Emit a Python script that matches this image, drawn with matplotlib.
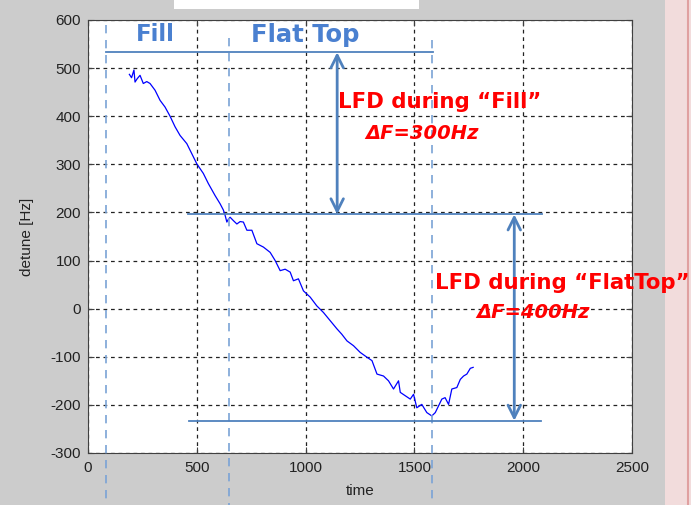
import matplotlib.pyplot as plt
from matplotlib.patches import Rectangle
from matplotlib.lines import Line2D

plt.rcParams['axes.unicode_minus'] = False

# detune curve
time = [190, 200, 211, 216, 226, 239, 254, 270, 285, 308,
        331, 354, 377, 400, 423, 454, 477, 500, 530, 553,
        584, 607, 622, 630, 638, 645, 653, 668, 684, 699,
        714, 730, 753, 776, 806, 837, 860, 883, 906, 929,
        944, 967, 990, 1021, 1051, 1082, 1113, 1144, 1166, 1190,
        1220, 1251, 1282, 1305, 1328, 1358, 1381, 1404, 1427, 1435,
        1458, 1481, 1496, 1511, 1534, 1557, 1580, 1596, 1611, 1626,
        1641, 1657, 1672, 1695, 1711, 1726, 1741, 1757, 1770]
detune = [487, 480, 496, 471, 478, 485, 468, 472, 468, 454,
          433, 419, 400, 378, 360, 343, 322, 301, 281, 260,
          235, 218, 205, 194, 180, 186, 190, 183, 176, 181,
          180, 163, 163, 135, 128, 117, 100, 79, 82, 76,
          58, 62, 37, 24, 6, -8, -25, -42, -53, -67,
          -77, -91, -101, -108, -136, -140, -150, -167, -150, -174,
          -181, -188, -178, -206, -199, -216, -223, -216, -202, -188,
          -185, -199, -167, -164, -147, -140, -136, -124, -122]

# phase markers and annotation levels
phase_times = [83, 648, 1582]
phase_tops = [590, 562, 558]
top_level = 533
fill_end_level = 196
flattop_end_level = -233
fill_arrow_t = 1145
flat_arrow_t = 1959

xticks = [0, 500, 1000, 1500, 2000, 2500]
yticks = [-300, -200, -100, 0, 100, 200, 300, 400, 500, 600]

blue = '#4f81bd'
red = '#ff0000'

fig = plt.figure(figsize=(6.91, 5.05), dpi=100, facecolor='#cccccc')
ax = fig.add_axes([0.1274, 0.1030, 0.7872, 0.8574])

# decorations around the figure (screenshot leftovers)
fig.patches.append(Rectangle((665 / 691, 0), 26 / 691, 1, transform=fig.transFigure,
                             facecolor='#f2dcdc', edgecolor='none', zorder=-2))
fig.lines.append(Line2D([688 / 691, 688 / 691], [0, 1], transform=fig.transFigure,
                        color='#e0a0a0', lw=1.5, zorder=-1))
fig.patches.append(Rectangle((174 / 691, 1 - 9 / 505), 245 / 691, 9 / 505, transform=fig.transFigure,
                             facecolor='white', edgecolor='none', zorder=-1))
fig.lines.append(Line2D([190 / 691, 390 / 691], [1 - 1.5 / 505, 1 - 1.5 / 505], transform=fig.transFigure,
                        color='#f4a0a0', lw=1.5, zorder=-1))

ax.plot(time, detune, color='#0000ff', lw=0.9, zorder=3)

ax.set_xlim(0, 2500)
ax.set_ylim(-300, 600)
ax.set_xticks(xticks)
ax.set_yticks(yticks)
ax.grid(True, color='#222222', linestyle=(0, (3, 3)), lw=0.9)
ax.tick_params(direction='in', length=4, top=True, right=True, labelsize=11,
               labelcolor='#222222', color='#404040')
ax.tick_params(axis='x', pad=6)
ax.tick_params(axis='y', pad=5)
for lab in ax.get_xticklabels() + ax.get_yticklabels():
    lab.set_fontfamily('Liberation Sans')
for s in ax.spines.values():
    s.set_color('#404040')
ax.set_xlabel('time', fontsize=11, family='Liberation Sans', color='#222222', labelpad=6)
ax.set_ylabel('detune [Hz]', fontsize=11, family='Liberation Sans', color='#222222', labelpad=12)

# phase boundaries, running off the axes
for t, top in zip(phase_times, phase_tops):
    ax.plot([t, t], [top, -430], color='#7aa3d6', lw=1.2, ls=(0, (5, 4)), clip_on=False, zorder=4)

# level lines
ax.plot([phase_times[0], phase_times[2] + 5], [top_level, top_level], color=blue, lw=1.3, clip_on=False, zorder=4)
ax.plot([460, 2085], [fill_end_level, fill_end_level], color=blue, lw=1.3, clip_on=False, zorder=4)
ax.plot([462, 2083], [flattop_end_level, flattop_end_level], color=blue, lw=1.3, clip_on=False, zorder=4)

arrow = dict(arrowstyle='<->,head_length=0.9,head_width=0.45', color=blue, lw=2, shrinkA=0, shrinkB=0)
ax.annotate('', xy=(fill_arrow_t, top_level), xytext=(fill_arrow_t, fill_end_level), arrowprops=arrow)
ax.annotate('', xy=(flat_arrow_t, fill_end_level), xytext=(flat_arrow_t, flattop_end_level), arrowprops=arrow)

# labels
ax.text(308, 569, 'Fill', color='#4a80d0', fontsize=16.5, fontweight='bold', ha='center', va='center', zorder=5)
ax.text(1000, 569, 'Flat Top', color='#4a80d0', fontsize=17.5, fontweight='bold', ha='center', va='center', zorder=5)
ax.text(1618, 429, 'LFD during \u201cFill\u201d', color=red, fontsize=15.3, fontweight='bold',
        ha='center', va='center', zorder=5, clip_on=False)
ax.text(1536, 364, '\u0394F=300Hz', color=red, fontsize=14, fontweight='bold', style='italic',
        ha='center', va='center', zorder=5, clip_on=False)
ax.text(2180, 54, 'LFD during \u201cFlatTop\u201d', color=red, fontsize=15.3, fontweight='bold',
        ha='center', va='center', zorder=5, clip_on=False)
ax.text(2046, -8, '\u0394F=400Hz', color=red, fontsize=14, fontweight='bold', style='italic',
        ha='center', va='center', zorder=5, clip_on=False)

fig.savefig('out.png', dpi=100, facecolor=fig.get_facecolor())
